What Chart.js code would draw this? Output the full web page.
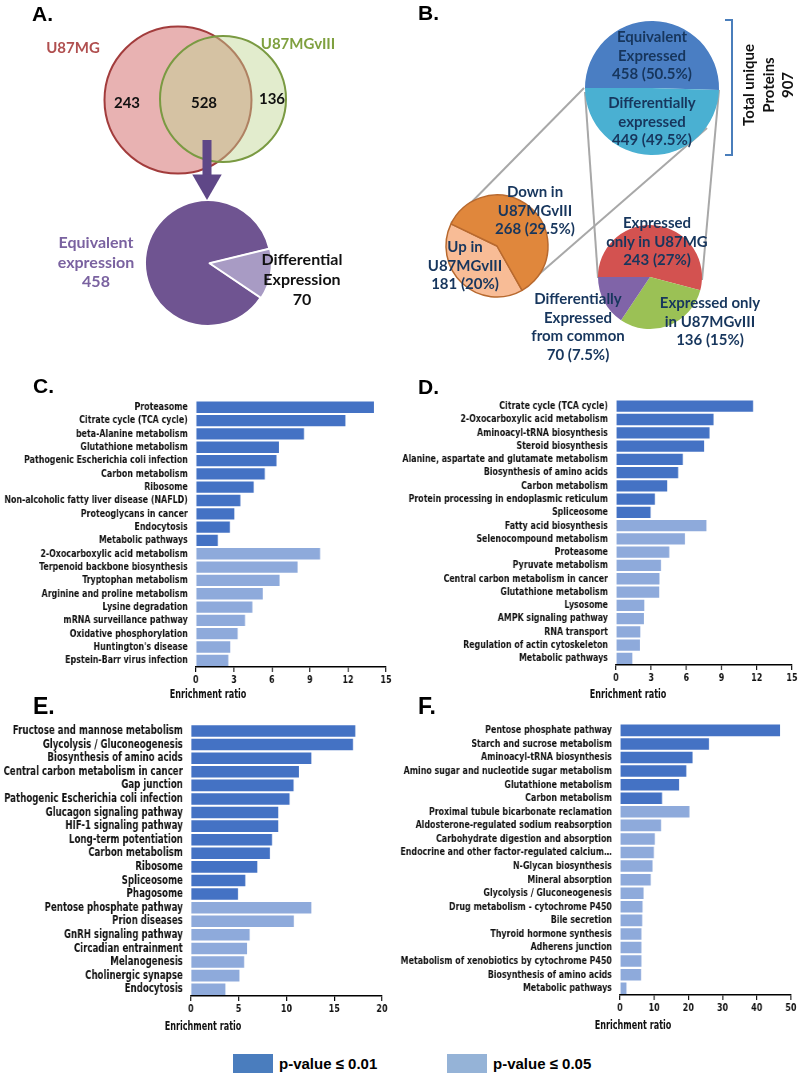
<!DOCTYPE html>
<html>
<head>
<meta charset="utf-8">
<script src="https://cdn.jsdelivr.net/npm/chart.js@4.4.0/dist/chart.umd.min.js"></script>
<style>
  html, body { margin: 0; padding: 0; background: #fff; }
  #page { position: relative; width: 800px; height: 1076px; overflow: hidden; }
  .t { position: absolute; transform: translate(-50%, -50%); white-space: pre; text-align: center;
       font-family: Lato, 'Open Sans', sans-serif; font-weight: 700; font-size: 15px; line-height: 18.5px;
       color: #17365d; z-index: 10; }
  .letter { position: absolute; font: bold 21px 'Liberation Sans', Arial, sans-serif; line-height: 21px; color: #000; z-index: 10; }
  .key { position: absolute; width: 40px; height: 19px; }
  .keyt { position: absolute; font: bold 15px 'Liberation Sans', Arial, sans-serif; color: #000; line-height: 19px; }
</style>
</head>
<body>
<div id="page"></div>
<script>
// ── Panel A / B values ──────────────────────────────
const vennSets   = ['U87MG', 'U87MGvIII'];
const vennOnly   = [243, 136];
const vennCommon = 528;
const commonSplit = [458, 70];          // equivalent, differential (from the 528 common)
const totalSplit  = [458, 449];         // equivalent, differentially expressed (907 total)
const diffUpDown  = [181, 268];         // up in U87MGvIII, down in U87MGvIII
const diffSources = [243, 136, 70];     // only U87MG, only U87MGvIII, differential from common

// ── Panel C ─────────────────────────────────────────
const cLabels = ['Proteasome', 'Citrate cycle (TCA cycle)', 'beta-Alanine metabolism', 'Glutathione metabolism',
  'Pathogenic Escherichia coli infection', 'Carbon metabolism', 'Ribosome', 'Non-alcoholic fatty liver disease (NAFLD)',
  'Proteoglycans in cancer', 'Endocytosis', 'Metabolic pathways', '2-Oxocarboxylic acid metabolism',
  'Terpenoid backbone biosynthesis', 'Tryptophan metabolism', 'Arginine and proline metabolism', 'Lysine degradation',
  'mRNA surveillance pathway', 'Oxidative phosphorylation', "Huntington's disease", 'Epstein-Barr virus infection'];
const cValues = [14.05, 11.8, 8.53, 6.55, 6.36, 5.44, 4.57, 3.51, 3.04, 2.69, 1.74,
  9.8, 8.03, 6.6, 5.28, 4.46, 3.88, 3.3, 2.72, 2.56];
const cStrong = 11;

// ── Panel D ─────────────────────────────────────────
const dLabels = ['Citrate cycle (TCA cycle)', '2-Oxocarboxylic acid metabolism', 'Aminoacyl-tRNA biosynthesis',
  'Steroid biosynthesis', 'Alanine, aspartate and glutamate metabolism', 'Biosynthesis of amino acids',
  'Carbon metabolism', 'Protein processing in endoplasmic reticulum', 'Spliceosome', 'Fatty acid biosynthesis',
  'Selenocompound metabolism', 'Proteasome', 'Pyruvate metabolism', 'Central carbon metabolism in cancer',
  'Glutathione metabolism', 'Lysosome', 'AMPK signaling pathway', 'RNA transport',
  'Regulation of actin cytoskeleton', 'Metabolic pathways'];
const dValues = [11.68, 8.31, 7.97, 7.51, 5.7, 5.3, 4.37, 3.32, 2.95,
  7.71, 5.87, 4.54, 3.83, 3.71, 3.69, 2.41, 2.38, 2.07, 2.04, 1.39];
const dStrong = 9;

// ── Panel E ─────────────────────────────────────────
const eLabels = ['Fructose and mannose metabolism', 'Glycolysis / Gluconeogenesis', 'Biosynthesis of amino acids',
  'Central carbon metabolism in cancer', 'Gap junction', 'Pathogenic Escherichia coli infection',
  'Glucagon signaling pathway', 'HIF-1 signaling pathway', 'Long-term potentiation', 'Carbon metabolism',
  'Ribosome', 'Spliceosome', 'Phagosome', 'Pentose phosphate pathway', 'Prion diseases', 'GnRH signaling pathway',
  'Circadian entrainment', 'Melanogenesis', 'Cholinergic synapse', 'Endocytosis'];
const eValues = [17.2, 16.97, 12.6, 11.3, 10.75, 10.33, 9.15, 9.15, 8.49, 8.28, 6.96, 5.7, 4.94,
  12.6, 10.78, 6.16, 5.88, 5.57, 5.08, 3.62];
const eStrong = 13;

// ── Panel F ─────────────────────────────────────────
const fLabels = ['Pentose phosphate pathway', 'Starch and sucrose metabolism', 'Aminoacyl-tRNA biosynthesis',
  'Amino sugar and nucleotide sugar metabolism', 'Glutathione metabolism', 'Carbon metabolism',
  'Proximal tubule bicarbonate reclamation', 'Aldosterone-regulated sodium reabsorption',
  'Carbohydrate digestion and absorption', 'Endocrine and other factor-regulated calcium…', 'N-Glycan biosynthesis',
  'Mineral absorption', 'Glycolysis / Gluconeogenesis', 'Drug metabolism - cytochrome P450', 'Bile secretion',
  'Thyroid hormone synthesis', 'Adherens junction', 'Metabolism of xenobiotics by cytochrome P450',
  'Biosynthesis of amino acids', 'Metabolic pathways'];
const fValues = [46.8, 26, 21.2, 19.4, 17.3, 12.3,
  20.3, 12.0, 10.2, 9.9, 9.5, 9.0, 6.9, 6.6, 6.5, 6.25, 6.25, 6.25, 6.15, 1.9];
const fStrong = 6;

const legendLabels = ['p-value ≤ 0.01', 'p-value ≤ 0.05'];

const DARK = '#4472c4', LIGHT = '#8eaadb';
const NARROW = "'Liberation Sans Narrow', 'DejaVu Sans Condensed', sans-serif";
const SX = 0.8;   // horizontal squeeze so the condensed font reads like the narrow original
const page = document.getElementById('page');

function makeCanvas(x, y, w, h, z, aw) {
  const c = document.createElement('canvas');
  c.width = aw || w; c.height = h;
  c.style.cssText = `position:absolute;left:${x}px;top:${y}px;width:${w}px;height:${h}px;z-index:${z}`;
  page.appendChild(c);
  return c;
}

function addText(txt, x, y, css) {
  const d = document.createElement('div');
  d.className = 't';
  d.textContent = txt;
  d.style.left = x + 'px';
  d.style.top = y + 'px';
  if (css) d.style.cssText += css;
  page.appendChild(d);
  return d;
}

function addLetter(txt, x, y, size) {
  const d = document.createElement('div');
  d.className = 'letter';
  d.textContent = txt;
  d.style.left = x + 'px';
  d.style.top = y + 'px';
  if (size) { d.style.fontSize = size + 'px'; d.style.lineHeight = size + 'px'; }
  page.appendChild(d);
}

function pie(cx, cy, r, values, colors, extra = {}, z = 4) {
  const m = 14;
  const c = makeCanvas(cx - r - m, cy - r - m, 2 * (r + m), 2 * (r + m), z);
  return new Chart(c, {
    type: 'pie',
    data: {
      labels: values.map(String),
      datasets: [{
        data: values,
        backgroundColor: colors,
        borderColor: extra.borderColor || '#ffffff',
        borderWidth: extra.borderWidth ?? 0,
        offset: extra.offset || 0,
      }]
    },
    options: {
      responsive: false, animation: false, events: [],
      radius: r,
      rotation: extra.rotation || 0,
      layout: { padding: 0 },
      plugins: { legend: { display: false }, tooltip: { enabled: false } }
    }
  });
}

function barChart(box, labels, values, strong, max, step, size = 11) {
  const aw = Math.round(box.w / SX);
  const c = makeCanvas(box.x, box.y, box.w, box.h, 2, aw);
  const font = { family: NARROW, size, weight: 'bold' };
  return new Chart(c, {
    type: 'bar',
    data: {
      labels,
      datasets: [{
        data: values,
        backgroundColor: values.map((v, i) => i < strong ? DARK : LIGHT),
        barPercentage: 0.85,
        categoryPercentage: 1,
      }]
    },
    options: {
      indexAxis: 'y', responsive: false, animation: false, events: [],
      layout: { padding: { top: 16, right: box.pr / SX, left: 0, bottom: 0 } },
      plugins: { legend: { display: false }, tooltip: { enabled: false } },
      scales: {
        x: {
          min: 0, max,
          ticks: { stepSize: step, color: '#111', font: { family: NARROW, size: 11, weight: 'bold' }, padding: 2 },
          grid: { drawOnChartArea: false, tickLength: 5, color: '#000', tickColor: '#000', lineWidth: 1.3 },
          border: { color: '#000', width: 1.5 },
          afterFit: s => { s.height = 23; }
        },
        y: {
          ticks: { color: '#111', font, padding: 10, autoSkip: false },
          grid: { display: false, drawTicks: false },
          border: { display: false },
          afterFit: s => { s.width = box.yw / SX; }
        }
      }
    }
  });
}

// ── Panel A/B overlay: Venn circles, arrow, connectors, bracket (pixel-unit scales) ──
const vennCenters = [{ x: 178, y: 100 }, { x: 223, y: 99 }];
const vennRadius  = [73.5, 63];
const arrowShaft = [{ x: 207, y: 140 }, { x: 207, y: 180 }];
const arrowHead  = [{ x: 207, y: 183 }];
const connectors = [
  [{ x: 584, y: 88 }, { x: 451, y: 223 }],
  [{ x: 707, y: 128 }, { x: 522, y: 289 }],
  [{ x: 585, y: 92 }, { x: 598, y: 278 }],
  [{ x: 719, y: 90 }, { x: 702, y: 280 }],
];
const bracket = [{ x: 725, y: 20 }, { x: 732, y: 20 }, { x: 732, y: 155 }, { x: 725, y: 155 }];

new Chart(makeCanvas(0, 0, 800, 340, 3), {
  type: 'scatter',
  data: {
    datasets: [
      { data: [vennCenters[0]], pointRadius: vennRadius[0], backgroundColor: '#e8b2b2',
        borderColor: '#a23c3c', borderWidth: 2, order: 6 },
      { data: [vennCenters[1]], pointRadius: vennRadius[1], backgroundColor: 'rgba(191,213,144,0.45)',
        borderColor: '#7a9a42', borderWidth: 2, order: 5 },
      ...connectors.map(seg => ({ data: seg, showLine: true, borderColor: '#a8a8a8', borderWidth: 2, pointRadius: 0, order: 3 })),
      { data: bracket, showLine: true, borderColor: '#4a7ebb', borderWidth: 2, pointRadius: 0, order: 3 },
      { data: arrowShaft, showLine: true, borderColor: '#5f4787', borderWidth: 9, pointRadius: 0, borderCapStyle: 'butt', order: 1 },
      { data: arrowHead, pointStyle: 'triangle', rotation: 180, pointRadius: 17, backgroundColor: '#5f4787', borderWidth: 0, order: 0 },
    ]
  },
  options: {
    responsive: false, animation: false, events: [],
    layout: { padding: 0, autoPadding: false },
    plugins: { legend: { display: false }, tooltip: { enabled: false } },
    scales: {
      x: { type: 'linear', min: 0, max: 800, display: false },
      y: { type: 'linear', min: 0, max: 340, reverse: true, display: false }
    }
  }
});

// ── Panel A: pie of the common proteins ─────────────
pie(208, 263, 62, commonSplit, ['#6f5491', '#a89bc4'],
  { rotation: 124, offset: [0, 6], borderColor: ['#6f5491', '#ffffff'], borderWidth: [0, 2] }, 4);

// ── Panel B pies ────────────────────────────────────
pie(652, 88, 67, totalSplit, ['#4a7ec3', '#4ab0d2'], { rotation: 270 }, 4);
pie(497, 246, 51, diffUpDown, ['#f8bc96', '#e0873c'], { rotation: 150.5, borderColor: '#b8692e', borderWidth: 1.5 }, 4);
pie(650, 277, 52, diffSources, ['#d35250', '#9bc155', '#8064a8'], { rotation: 270 }, 4);

// ── Panel A text ────────────────────────────────────
addText(vennSets[0], 73, 47, 'color:#b04f4f;');
addText(vennSets[1], 298, 43, 'color:#7fa03f;');
addText(String(vennOnly[0]), 127, 102, 'color:#111;');
addText(String(vennCommon), 204, 102, 'color:#111;');
addText(String(vennOnly[1]), 272, 98, 'color:#111;');
addText('Equivalent\nexpression\n' + commonSplit[0], 96, 261, 'color:#7a62a0;font-size:16px;line-height:19.5px;');
addText('Differential\nExpression\n' + commonSplit[1], 302, 279, 'color:#111;font-size:16px;line-height:20px;');

// ── Panel B text ────────────────────────────────────
addText(`Equivalent\nExpressed\n${totalSplit[0]} (50.5%)`, 652, 55);
addText(`Differentially\nexpressed\n${totalSplit[1]} (49.5%)`, 652, 121);
addText(`Down in\nU87MGvIII\n${diffUpDown[1]} (29.5%)`, 535, 210);
addText(`Up in\nU87MGvIII\n${diffUpDown[0]} (20%)`, 465, 265);
addText(`Expressed\nonly in U87MG\n${diffSources[0]} (27%)`, 657, 241);
addText(`Differentially\nExpressed\nfrom common\n${diffSources[2]} (7.5%)`, 578, 326);
addText(`Expressed only\nin U87MGvIII\n${diffSources[1]} (15%)`, 710, 321);
addText('Total unique\nProteins\n' + (totalSplit[0] + totalSplit[1]), 768, 85,
  'transform:translate(-50%,-50%) rotate(-90deg);line-height:19.5px;color:#111;');

// ── Panel letters ───────────────────────────────────
addLetter('A.', 32, 3);
addLetter('B.', 418, 2);
addLetter('C.', 33, 375);
addLetter('D.', 418, 376);
addLetter('E.', 33, 695, 23);
addLetter('F.', 418, 695, 23);

// ── Bar charts ──────────────────────────────────────
barChart({ x: 0,   y: 384, w: 398, h: 306, yw: 196, pr: 12 }, cLabels, cValues, cStrong, 15, 3);
barChart({ x: 400, y: 383, w: 400, h: 305, yw: 216, pr: 8 },  dLabels, dValues, dStrong, 15, 3);
barChart({ x: 0,   y: 707, w: 394, h: 312, yw: 191, pr: 12 }, eLabels, eValues, eStrong, 20, 5, 12);
barChart({ x: 400, y: 707, w: 400, h: 311, yw: 220, pr: 9 },  fLabels, fValues, fStrong, 50, 10);

const axisTitle = 'Enrichment ratio';
const titleCss = `font-family:${NARROW};font-size:12px;color:#111;transform:translate(-50%,-50%) scaleX(0.75);`;
addText(axisTitle, 208, 694, titleCss);
addText(axisTitle, 628, 694, titleCss);
addText(axisTitle, 203, 1026, titleCss);
addText(axisTitle, 633, 1025, titleCss);

// ── Shared legend ───────────────────────────────────
const keyColors = ['#4a7dbe', '#95b3d7'];
const keyX = [233, 447];
legendLabels.forEach((lab, i) => {
  const k = document.createElement('div');
  k.className = 'key';
  k.style.left = keyX[i] + 'px'; k.style.top = '1054px'; k.style.background = keyColors[i];
  page.appendChild(k);
  const t = document.createElement('div');
  t.className = 'keyt';
  t.textContent = lab;
  t.style.left = (keyX[i] + 46) + 'px'; t.style.top = '1054px';
  page.appendChild(t);
});
</script>
</body>
</html>
